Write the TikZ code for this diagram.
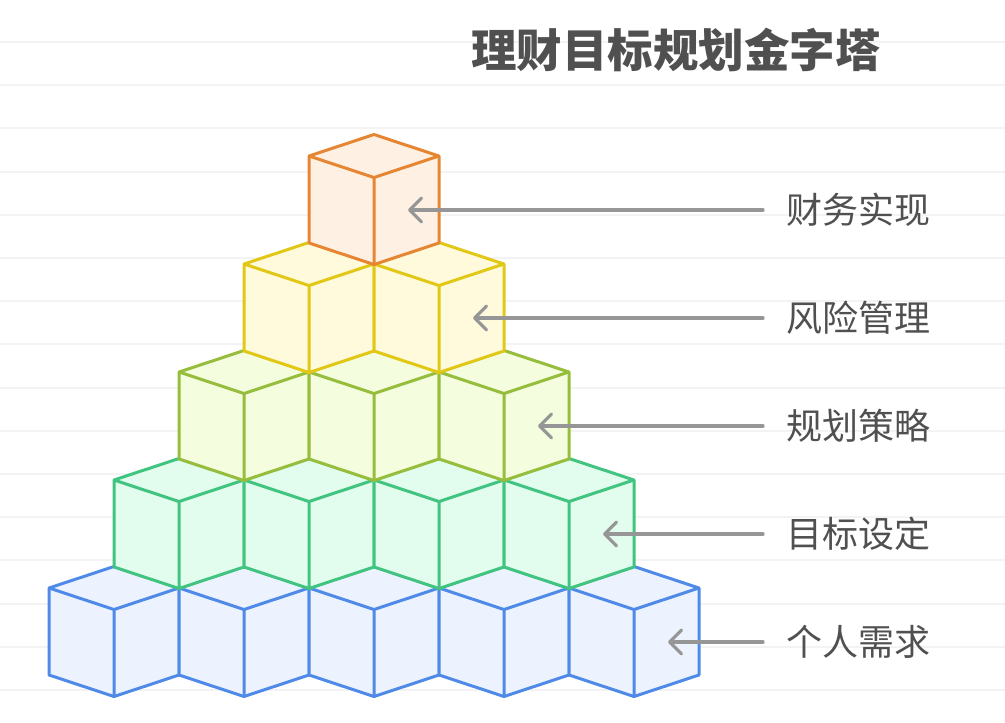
\documentclass[tikz,border=0pt]{standalone}
\usepackage{fontspec}
\newfontfamily\cjk{Noto Sans CJK SC}
\usepackage{tikz}
\usetikzlibrary{arrows.meta}
\definecolor{blueedge}{RGB}{80,138,232}
\definecolor{bluebody}{RGB}{236,243,254}
\definecolor{greenedge}{RGB}{64,196,128}
\definecolor{greenbody}{RGB}{226,252,238}
\definecolor{limeedge}{RGB}{150,190,60}
\definecolor{limebody}{RGB}{244,253,222}
\definecolor{yellowedge}{RGB}{226,200,22}
\definecolor{yellowbody}{RGB}{255,250,220}
\definecolor{orangeedge}{RGB}{230,134,50}
\definecolor{orangebody}{RGB}{255,240,228}
\definecolor{arrowgray}{RGB}{150,150,150}
\definecolor{textgray}{RGB}{80,80,80}
\definecolor{rulegray}{RGB}{243,243,243}
\tikzstyle{face} = [line width=3pt, line join=round]
\tikzstyle{rule} = [draw=rulegray, line width=2pt]
\tikzstyle{stage} = [anchor=west, inner xsep=23pt, inner ysep=0pt,
    text=textgray, font=\cjk\fontsize{36}{40}\selectfont]
\tikzstyle{heading} = [text=textgray, font=\cjk\bfseries\fontsize{45.5}{50}\selectfont]
\tikzstyle{line} = [draw=arrowgray, line width=3.2pt, line cap=round,
    -{Straight Barb[length=12pt, width=24pt, round]}]

\begin{document}
\begin{tikzpicture}[x=1pt, y=-1pt]
    \useasboundingbox (0,0) rectangle (1005,723);
    % faint ruling behind everything
    \foreach \k in {0,...,15}
        \path[rule] (0,42+43.2*\k) -- (1005,42+43.2*\k);
    % cubes, bottom row first so upper rows sit on top
    \foreach \r/\edge/\body in {0/blueedge/bluebody, 1/greenedge/greenbody,
        2/limeedge/limebody, 3/yellowedge/yellowbody, 4/orangeedge/orangebody} {
        \pgfmathtruncatemacro\n{4-\r}
        \foreach \i in {0,...,\n} {
            \begin{scope}[shift={({49+65*\r+130*\i},{588-108*\r})}]
                \filldraw[face, draw=\edge, fill=\body] (0,0) -- (65,-21.5) -- (130,0)
                    -- (130,87) -- (65,108.5) -- (0,87) -- cycle;
                \draw[face, draw=\edge] (0,0) -- (65,21.5) -- (130,0) (65,21.5) -- (65,108.5);
            \end{scope}
        }
    }
    \node[heading] (title) at (676,50) {理财目标规划金字塔};
    % labels and pointers
    \node[stage] (reach) at (763,210) {财务实现};
    \node[stage] (risk) at (763,318) {风险管理};
    \node[stage] (plan) at (763,426) {规划策略};
    \node[stage] (goal) at (763,534) {目标设定};
    \node[stage] (need) at (763,642) {个人需求};
    \coordinate (reachtip) at (408,210);
    \coordinate (risktip) at (473,318);
    \coordinate (plantip) at (538,426);
    \coordinate (goaltip) at (603,534);
    \coordinate (needtip) at (668,642);
    \path [line] (reach) -- (reachtip);
    \path [line] (risk) -- (risktip);
    \path [line] (plan) -- (plantip);
    \path [line] (goal) -- (goaltip);
    \path [line] (need) -- (needtip);
\end{tikzpicture}
\end{document}
